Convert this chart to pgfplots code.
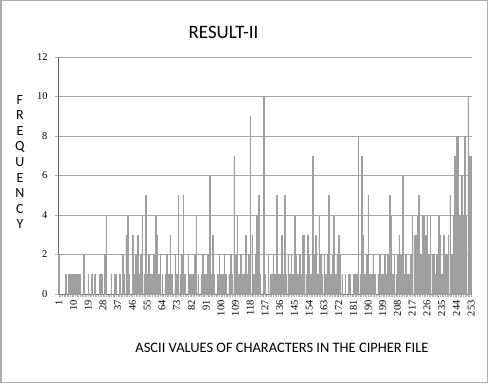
\documentclass[border=0pt]{standalone}
\usepackage{pgfplots}
\pgfplotsset{compat=1.18}
\usepackage{fontspec}
\setmainfont{Carlito}
\newfontfamily\tickfont{Liberation Serif}
\begin{document}
\begin{tikzpicture}[x=1bp,y=1bp]
\useasboundingbox (0,0) rectangle (488,383);
\draw[gray!65, line width=1.5bp] (0.75,0.75) rectangle (487.25,382.25);
\begin{axis}[
  at={(58bp,89bp)}, anchor=south west,
  scale only axis, width=414bp, height=237bp,
  xmin=0.5, xmax=253.5, ymin=0, ymax=12,
  axis x line=bottom, axis y line=left,
  axis line style={-, gray!80!black, line width=0.6bp},
  ytick={0,2,...,12},
  xtick={1,10,...,253},
  minor x tick num=8,
  tick align=outside,
  major tick length=3bp, minor tick length=3bp,
  tick style={gray!60, line width=0.3bp},
  ymajorgrids, grid style={gray!70, line width=0.6bp},
  /pgf/number format/assume math mode=true,
  ticklabel style={font=\tickfont\fontsize{10.5}{10.5}\selectfont},
  xticklabel style={rotate=90, anchor=east},
  yticklabel style={xshift=-4bp},
  title={RESULT-II},
  title style={font=\fontsize{19}{19}\selectfont, at={(axis description cs:0.40,1.08)}, anchor=center},
  xlabel={ASCII VALUES OF CHARACTERS IN THE CIPHER FILE},
  xlabel style={font=\fontsize{14.5}{14.5}\selectfont, at={(axis description cs:0.541,-0.228)}, anchor=center},
  ylabel={F\\R\\E\\Q\\U\\E\\N\\C\\Y},
  ylabel style={rotate=-90, align=center, font=\fontsize{14}{15.6}\selectfont, at={(axis description cs:-0.092,0.557)}, anchor=center},
  clip=false,
]
\addplot[ybar, bar width=0.35, fill=gray!45, draw=gray!75, line width=0.25bp] coordinates {
(1,2)(2,0)(3,0)(4,0)(5,1)(6,0)(7,1)(8,1)(9,1)(10,1)
(11,1)(12,1)(13,1)(14,1)(15,0)(16,2)(17,0)(18,0)(19,1)(20,0)
(21,1)(22,0)(23,1)(24,0)(25,0)(26,1)(27,1)(28,0)(29,2)(30,4)
(31,0)(32,0)(33,1)(34,0)(35,1)(36,1)(37,0)(38,1)(39,0)(40,2)
(41,1)(42,3)(43,4)(44,1)(45,0)(46,3)(47,1)(48,2)(49,3)(50,1)
(51,2)(52,4)(53,1)(54,5)(55,1)(56,2)(57,1)(58,1)(59,2)(60,4)
(61,3)(62,1)(63,2)(64,1)(65,0)(66,1)(67,2)(68,1)(69,3)(70,1)
(71,0)(72,2)(73,1)(74,5)(75,1)(76,2)(77,5)(78,1)(79,0)(80,2)
(81,1)(82,1)(83,1)(84,2)(85,4)(86,1)(87,0)(88,1)(89,2)(90,1)
(91,1)(92,2)(93,6)(94,1)(95,3)(96,1)(97,0)(98,1)(99,2)(100,1)
(101,1)(102,2)(103,1)(104,0)(105,1)(106,2)(107,1)(108,7)(109,2)(110,4)
(111,1)(112,2)(113,1)(114,1)(115,3)(116,1)(117,2)(118,9)(119,3)(120,1)
(121,2)(122,4)(123,5)(124,1)(125,0)(126,10)(127,1)(128,0)(129,2)(130,1)
(131,1)(132,2)(133,1)(134,5)(135,1)(136,1)(137,3)(138,1)(139,5)(140,1)
(141,2)(142,1)(143,2)(144,1)(145,4)(146,2)(147,1)(148,2)(149,1)(150,3)
(151,3)(152,1)(153,3)(154,2)(155,1)(156,7)(157,2)(158,3)(159,1)(160,4)
(161,2)(162,1)(163,2)(164,1)(165,2)(166,5)(167,1)(168,2)(169,4)(170,1)
(171,2)(172,3)(173,2)(174,1)(175,0)(176,1)(177,0)(178,1)(179,1)(180,0)
(181,1)(182,1)(183,1)(184,8)(185,1)(186,7)(187,3)(188,1)(189,2)(190,5)
(191,1)(192,1)(193,2)(194,1)(195,0)(196,1)(197,2)(198,1)(199,1)(200,2)
(201,1)(202,2)(203,5)(204,4)(205,1)(206,2)(207,1)(208,2)(209,3)(210,2)
(211,6)(212,1)(213,2)(214,1)(215,1)(216,2)(217,4)(218,3)(219,3)(220,4)
(221,5)(222,2)(223,4)(224,4)(225,3)(226,4)(227,2)(228,4)(229,2)(230,2)
(231,1)(232,2)(233,4)(234,3)(235,1)(236,3)(237,2)(238,2)(239,3)(240,5)
(241,2)(242,4)(243,7)(244,8)(245,8)(246,4)(247,6)(248,4)(249,8)(250,4)
(251,10)(252,7)(253,7)
};
\end{axis}
\end{tikzpicture}
\end{document}
